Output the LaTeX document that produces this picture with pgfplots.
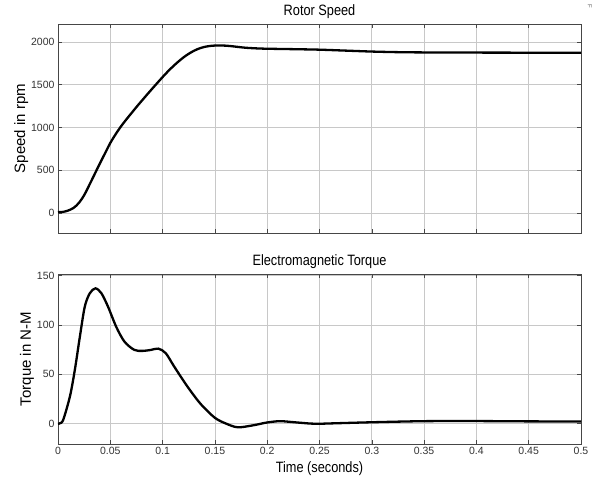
\documentclass[border=0pt]{standalone}
\usepackage{fontspec}
\setmainfont{Liberation Sans}
\newfontfamily\condensed{Liberation Sans}[FakeStretch=0.85]
\usepackage{pgfplots}
\pgfplotsset{compat=1.18}
\definecolor{gridgray}{RGB}{200,200,200}
\definecolor{boxgray}{RGB}{70,70,70}
\pgfplotsset{
  scopestyle/.style={
    scale only axis,
    width=523pt,
    xmin=0, xmax=0.5,
    xtick={0,0.05,0.1,0.15,0.2,0.25,0.3,0.35,0.4,0.45,0.5},
    grid=major,
    major grid style={gridgray, line width=0.8pt},
    axis line style={boxgray, line width=0.8pt},
    tick style={boxgray, line width=0.6pt},
    tick align=inside,
    major tick length=4pt,
    tick label style={font=\fontsize{10.5}{12}\selectfont, text=black!80},
    title style={font=\condensed\fontsize{15}{18}\selectfont, yshift=-4pt},
    ylabel style={font=\fontsize{15}{18}\selectfont, yshift=-4pt},
    xlabel style={font=\condensed\fontsize{15}{18}\selectfont},
  }
}
\begin{document}
\begin{tikzpicture}
\path[use as bounding box] (-58pt,-47pt) rectangle (536pt,444pt);
% Top: rotor speed
\begin{axis}[scopestyle,
  at={(0pt,211pt)}, anchor=south west,
  height=209pt,
  ymin=-232, ymax=2210,
  ytick={0,500,1000,1500,2000},
  yticklabels={0,500,1000,1500,2000},
  xticklabels={},
  title={Rotor Speed},
  ylabel={Speed in rpm},
]
\addplot[black, line width=2.3pt, smooth, tension=0.5] coordinates {
(0,12) (0.005,15) (0.01,32) (0.015,62) (0.02,120) (0.025,210) (0.03,330)
(0.035,455) (0.04,580) (0.045,700) (0.05,820) (0.055,920) (0.06,1010)
(0.065,1090) (0.07,1165) (0.075,1240) (0.08,1312) (0.085,1383) (0.09,1453)
(0.095,1522) (0.1,1590) (0.105,1655) (0.11,1715) (0.115,1770) (0.12,1820)
(0.125,1862) (0.13,1897) (0.135,1924) (0.14,1942) (0.145,1953) (0.15,1958)
(0.155,1959) (0.16,1957) (0.165,1952) (0.17,1945) (0.175,1938) (0.18,1932)
(0.19,1925) (0.2,1921) (0.225,1916) (0.25,1910) (0.275,1899) (0.3,1888)
(0.325,1881) (0.35,1878) (0.4,1876) (0.45,1875) (0.5,1875)
};
\end{axis}
% Bottom: electromagnetic torque
\begin{axis}[scopestyle,
  at={(0pt,0pt)}, anchor=south west,
  height=170pt,
  ymin=-20.5, ymax=151.5,
  ytick={0,50,100,150},
  yticklabels={0,50,100,150},
  xticklabels={0,0.05,0.1,0.15,0.2,0.25,0.3,0.35,0.4,0.45,0.5},
  title={Electromagnetic Torque},
  ylabel={Torque in N-M},
  xlabel={Time (seconds)},
]
\addplot[black, line width=2.3pt, smooth, tension=0.5] coordinates {
(0,0) (0.002,0.5) (0.005,4) (0.0114,27.6) (0.0161,54.5) (0.0209,88) (0.0256,118.5)
(0.0304,132) (0.0358,137) (0.0415,132) (0.0478,118.5) (0.0557,98) (0.0636,83)
(0.073,74.7) (0.081,73.7) (0.089,74.7) (0.0959,76) (0.103,71.4) (0.111,58)
(0.1237,37.7) (0.1364,20) (0.15,6) (0.161,0) (0.172,-3.6) (0.187,-1.5) (0.1995,1.2)
(0.212,2.6) (0.225,1.6) (0.241,0.2) (0.25,0) (0.263,0.4) (0.3,1.5) (0.35,2.6)
(0.4,2.7) (0.45,2.4) (0.5,2.3)
};
\end{axis}
\node[rotate=-90, font=\fontsize{6}{7}\selectfont, text=black!60] at (532pt,438pt) {F};
\end{tikzpicture}
\end{document}
